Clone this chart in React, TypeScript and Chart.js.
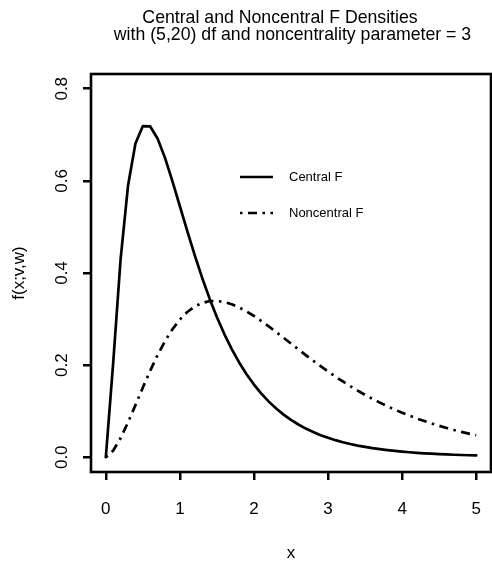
import React, { useEffect, useRef } from "react";
import { Chart, registerables } from "chart.js";

Chart.register(...registerables);

const xValues = [
  0, 0.1, 0.2, 0.3, 0.4, 0.5, 0.6, 0.7, 0.8, 0.9,
  1, 1.1, 1.2, 1.3, 1.4, 1.5, 1.6, 1.7, 1.8, 1.9,
  2, 2.1, 2.2, 2.3, 2.4, 2.5, 2.6, 2.7, 2.8, 2.9,
  3, 3.1, 3.2, 3.3, 3.4, 3.5, 3.6, 3.7, 3.8, 3.9,
  4, 4.1, 4.2, 4.3, 4.4, 4.5, 4.6, 4.7, 4.8, 4.9, 5,
];

const centralF = [
  0,
  0.2059, 0.4309, 0.5898, 0.6813, 0.719, 0.7181, 0.6916, 0.6494, 0.5989, 0.5449,
  0.4908, 0.4387, 0.3898, 0.3449, 0.3041, 0.2675, 0.2348, 0.2058, 0.1803, 0.1578,
  0.1381, 0.1208, 0.1057, 0.0926, 0.0811, 0.0711, 0.0623, 0.0547, 0.048, 0.0422,
  0.0371, 0.0327, 0.0288, 0.0254, 0.0225, 0.0198, 0.0176, 0.0156, 0.0138, 0.0122,
  0.0109, 0.0097, 0.0086, 0.0077, 0.0068, 0.0061, 0.0055, 0.0049, 0.0044, 0.0039,
];

const noncentralF = [
  0,
  0.0146, 0.0417, 0.0758, 0.1132, 0.1514, 0.1882, 0.2222, 0.2523, 0.278, 0.2991,
  0.3154, 0.3273, 0.335, 0.3389, 0.3394, 0.337, 0.3322, 0.3252, 0.3166, 0.3067,
  0.2957, 0.284, 0.2718, 0.2593, 0.2467, 0.2342, 0.2217, 0.2096, 0.1977, 0.1862,
  0.1751, 0.1645, 0.1544, 0.1447, 0.1355, 0.1268, 0.1186, 0.1108, 0.1035, 0.0966,
  0.0902, 0.0841, 0.0785, 0.0732, 0.0682, 0.0636, 0.0592, 0.0552, 0.0514, 0.0479,
];

const xTicks = [0, 1, 2, 3, 4, 5];
const xTickLabels = ["0", "1", "2", "3", "4", "5"];
const yTicks = [0, 0.2, 0.4, 0.6, 0.8];
const yTickLabels = ["0.0", "0.2", "0.4", "0.6", "0.8"];
const titleLines = [
  "Central and Noncentral F Densities",
  "with (5,20) df and noncentrality parameter = 3",
];
const seriesLabels = ["Central F", "Noncentral F"];
const xTitle = "x";
const yTitle = "f(x;v,w)";

const FONT = '"Liberation Sans", Arial, Helvetica, sans-serif';
const DASH = [2.5, 5.5, 9, 5.5];
const LW = 2.7;

const rDecor = {
  id: "rDecor",
  afterDraw(chart: any) {
    const ctx = chart.ctx as CanvasRenderingContext2D;
    const a = chart.chartArea;
    const xs = chart.scales.x;
    const ys = chart.scales.y;
    ctx.save();
    // box
    ctx.strokeStyle = "#000";
    ctx.lineWidth = 2.6;
    ctx.lineJoin = "miter";
    ctx.setLineDash([]);
    ctx.strokeRect(a.left, a.top, a.right - a.left, a.bottom - a.top);

    ctx.fillStyle = "#000";
    ctx.textAlign = "center";
    ctx.textBaseline = "middle";
    ctx.font = `17px ${FONT}`;
    // x tick labels
    xTicks.forEach((v, i) => {
      ctx.fillText(xTickLabels[i], xs.getPixelForValue(v), 509);
    });
    // y tick labels (rotated, R style)
    yTicks.forEach((v, i) => {
      ctx.save();
      ctx.translate(62, ys.getPixelForValue(v));
      ctx.rotate(-Math.PI / 2);
      ctx.fillText(yTickLabels[i], 0, 0);
      ctx.restore();
    });
    // axis titles
    ctx.fillText(xTitle, (a.left + a.right) / 2, 553);
    ctx.save();
    ctx.translate(19, (a.top + a.bottom) / 2);
    ctx.rotate(-Math.PI / 2);
    ctx.fillText(yTitle, 0, 0);
    ctx.restore();

    // main title
    ctx.font = `17.7px ${FONT}`;
    ctx.fillText(titleLines[0], 280, 18.5);
    ctx.fillText(titleLines[1], 292.5, 35);

    // legend
    ctx.lineWidth = LW;
    ctx.lineCap = "butt";
    ctx.beginPath();
    ctx.moveTo(240, 177);
    ctx.lineTo(273, 177);
    ctx.stroke();
    ctx.setLineDash(DASH);
    ctx.beginPath();
    ctx.moveTo(240, 213);
    ctx.lineTo(273, 213);
    ctx.stroke();
    ctx.setLineDash([]);
    ctx.font = `13px ${FONT}`;
    ctx.textAlign = "left";
    ctx.fillText(seriesLabels[0], 289, 177);
    ctx.fillText(seriesLabels[1], 289, 213);
    ctx.restore();
  },
};

export default function App() {
  const ref = useRef<HTMLCanvasElement | null>(null);

  useEffect(() => {
    document.body.style.margin = "0";
    const canvas = ref.current;
    if (!canvas) return;
    const chart = new Chart(canvas, {
      type: "line",
      data: {
        datasets: [
          {
            label: seriesLabels[0],
            data: xValues.map((x, i) => ({ x, y: centralF[i] })),
            borderColor: "#000",
            borderWidth: LW,
            pointRadius: 0,
            tension: 0,
            fill: false,
            borderCapStyle: "round",
            borderJoinStyle: "round",
          },
          {
            label: seriesLabels[1],
            data: xValues.map((x, i) => ({ x, y: noncentralF[i] })),
            borderColor: "#000",
            borderWidth: LW,
            borderDash: DASH,
            pointRadius: 0,
            tension: 0,
            fill: false,
            borderCapStyle: "butt",
            borderJoinStyle: "round",
          },
        ],
      },
      options: {
        responsive: false,
        animation: false,
        devicePixelRatio: 1,
        layout: { padding: { top: 74, right: 1, left: 0, bottom: 0 } },
        plugins: {
          legend: { display: false },
          title: { display: false },
          tooltip: { enabled: false },
        },
        scales: {
          x: {
            type: "linear",
            min: -0.2,
            max: 5.2,
            afterBuildTicks: (s: any) => {
              s.ticks = xTicks.map((v) => ({ value: v }));
            },
            afterFit: (s: any) => {
              s.height = 93;
            },
            ticks: { display: false },
            grid: {
              display: true,
              drawOnChartArea: false,
              drawTicks: true,
              tickLength: 8,
              color: "#000",
              lineWidth: 2.5,
            },
            border: { display: false },
          },
          y: {
            type: "linear",
            min: -0.032,
            max: 0.832,
            afterBuildTicks: (s: any) => {
              s.ticks = yTicks.map((v) => ({ value: v }));
            },
            afterFit: (s: any) => {
              s.width = 91;
            },
            ticks: { display: false },
            grid: {
              display: true,
              drawOnChartArea: false,
              drawTicks: true,
              tickLength: 8,
              color: "#000",
              lineWidth: 2.5,
            },
            border: { display: false },
          },
        },
      },
      plugins: [rDecor],
    } as any);
    return () => chart.destroy();
  }, []);

  return (
    <canvas
      ref={ref}
      width={492}
      height={565}
      style={{ display: "block", width: 492, height: 565 }}
    />
  );
}
